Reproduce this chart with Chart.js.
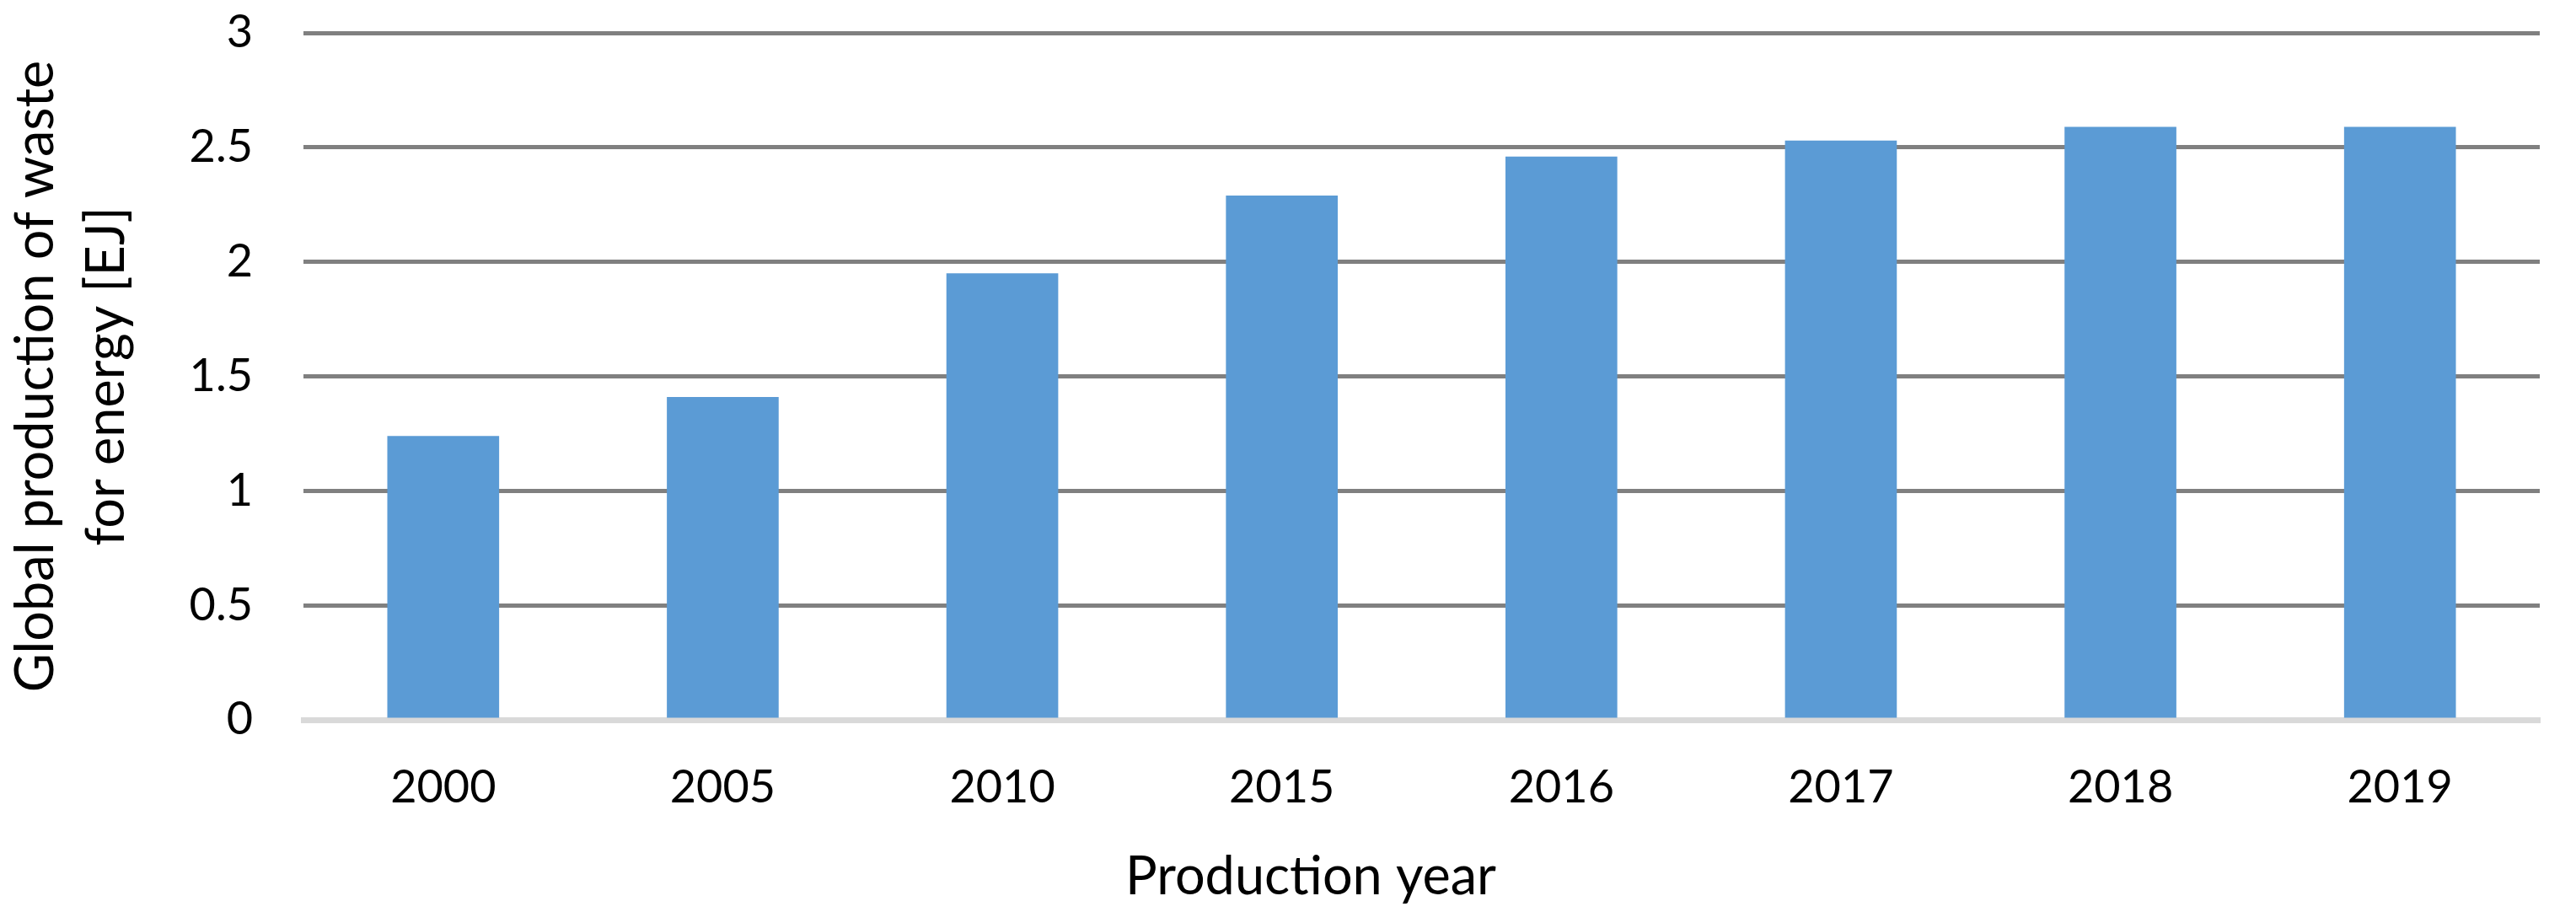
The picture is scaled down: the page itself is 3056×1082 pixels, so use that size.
<!DOCTYPE html>
<html>
<head>
<meta charset="utf-8">
<script src="https://cdn.jsdelivr.net/npm/chart.js@4.4.1/dist/chart.umd.min.js"></script>
<style>
  html, body { margin: 0; padding: 0; background: #fff; }
  #wrap { width: 3056px; height: 1082px; }
</style>
</head>
<body>
<div id="wrap"><canvas id="waste-chart" width="3056" height="1082"></canvas></div>
<script>
// values
const years = ['2000', '2005', '2010', '2015', '2016', '2017', '2018', '2019']
const wasteEJ = [1.24, 1.41, 1.95, 2.29, 2.46, 2.53, 2.59, 2.59]
const yTicks = [0, 0.5, 1, 1.5, 2, 2.5, 3]

const yTitle = ['Global production of waste', 'for energy [EJ]']
const xTitle = 'Production year'

const FONT = 'Lato, "Open Sans", sans-serif'

// x title in the reference is centred a bit left of the plot centre,
// so it's drawn here instead of as the scale title
const xTitlePlugin = {
    id: 'xTitle',
    afterDraw(chart) {
        const ctx = chart.ctx
        ctx.save()
        ctx.font = '63px ' + FONT
        ctx.fillStyle = '#000'
        ctx.textAlign = 'center'
        ctx.textBaseline = 'alphabetic'
        ctx.fillText(xTitle, chart.width / 2 + 27, chart.chartArea.bottom + 207)
        ctx.restore()
    }
}

const ctx = document.getElementById('waste-chart')

new Chart(ctx, {
    type: 'bar',
    data: {
        labels: years,
        datasets: [{
            label: 'Waste for energy',
            data: wasteEJ,
            backgroundColor: '#5B9BD5',
            barPercentage: 0.4,
            categoryPercentage: 1.0
        }]
    },
    options: {
        responsive: false,
        animation: false,
        devicePixelRatio: 1,
        layout: {
            padding: { top: 39, right: 43, bottom: 0, left: 0 }
        },
        plugins: {
            legend: { display: false },
            tooltip: { enabled: false }
        },
        scales: {
            x: {
                z: 1, // axis line sits over the bar bottoms
                grid: { display: false, drawTicks: false },
                border: { color: '#D9D9D9', width: 7 },
                ticks: {
                    color: '#000',
                    padding: 48,
                    font: { family: FONT, size: 54 }
                },
                afterFit(scale) {
                    scale.height = 228
                }
            },
            y: {
                min: 0,
                max: 3,
                afterBuildTicks(scale) {
                    scale.ticks = yTicks.map(v => ({ value: v }))
                },
                grid: { color: '#808080', lineWidth: 5, drawTicks: false },
                border: { display: false },
                ticks: {
                    color: '#000',
                    padding: 60,
                    font: { family: FONT, size: 54 },
                    callback: v => String(v) // 1 not 1.0
                },
                title: {
                    display: true,
                    text: yTitle,
                    color: '#000',
                    padding: 0,
                    font: { family: FONT, size: 63, lineHeight: 1.34 }
                },
                afterFit(scale) {
                    scale.width = 360
                    // top label may overhang, layout padding already leaves room
                    scale.paddingTop = 0
                    scale.paddingBottom = 0
                }
            }
        }
    },
    plugins: [xTitlePlugin]
})
</script>
</body>
</html>
